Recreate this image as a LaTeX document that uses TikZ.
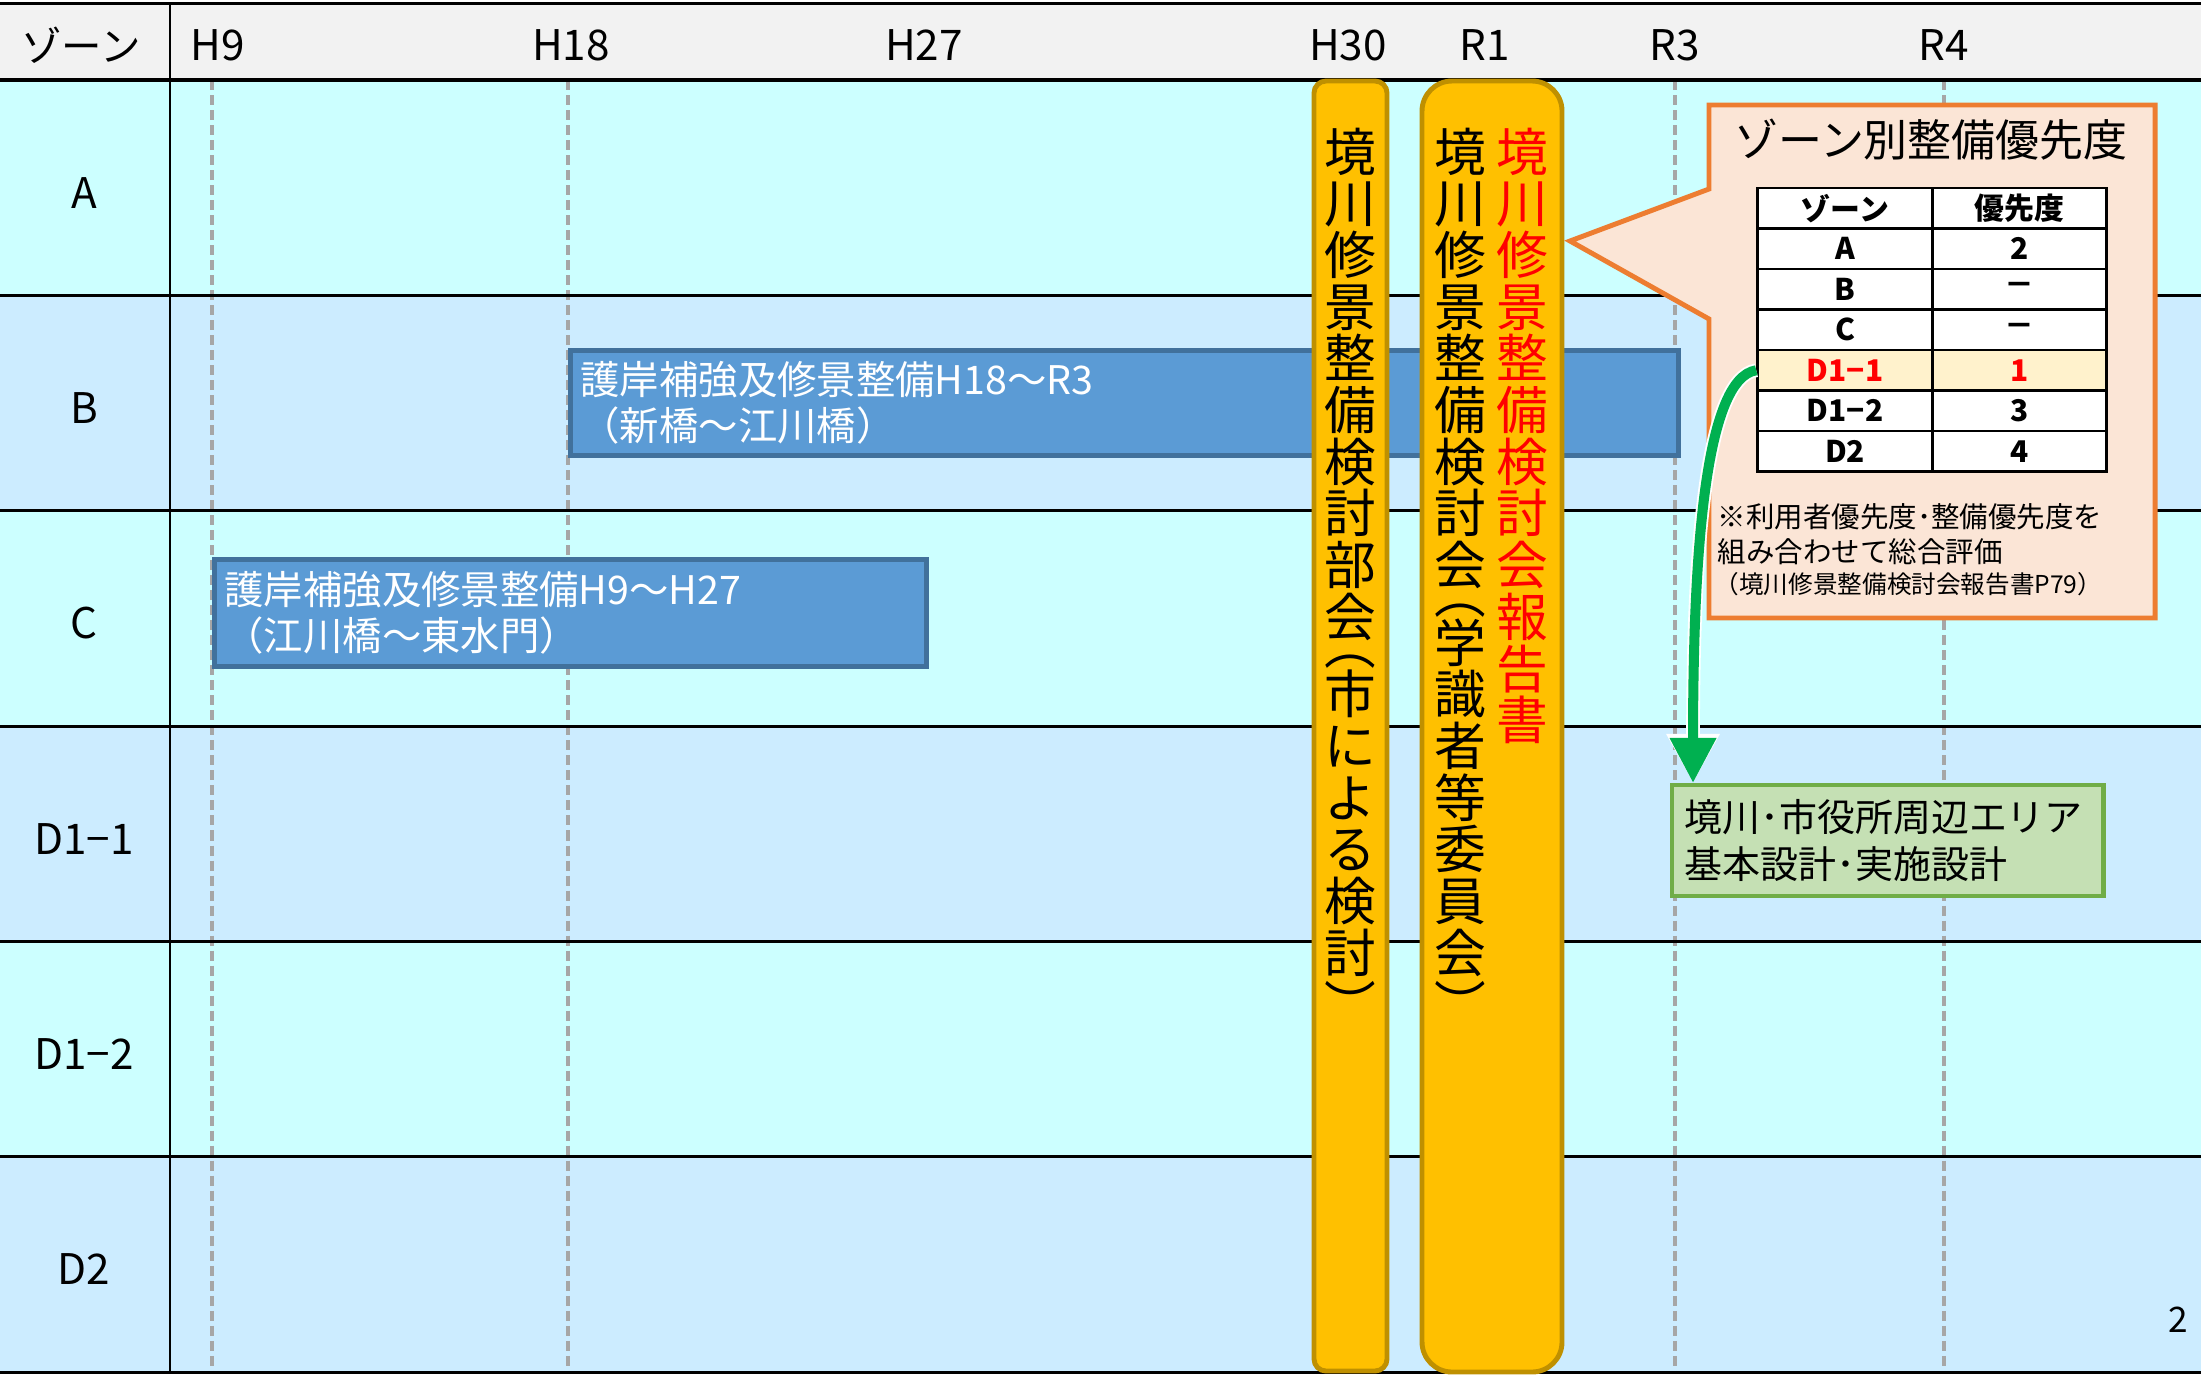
\documentclass[tikz,border=0pt]{standalone}
\usepackage{fontspec}
\setmainfont{Noto Sans CJK JP}
\usetikzlibrary{positioning, arrows.meta}
\definecolor{filacian}{HTML}{CCFFFF}
\definecolor{filaazul}{HTML}{CCECFF}
\definecolor{cabecera}{HTML}{F2F2F2}
\definecolor{guia}{HTML}{A6A6A6}
\definecolor{obraazul}{HTML}{5B9BD5}
\definecolor{obraborde}{HTML}{41719C}
\definecolor{comite}{HTML}{FFC000}
\definecolor{comiteborde}{HTML}{BF9000}
\definecolor{globo}{HTML}{FBE5D6}
\definecolor{globoborde}{HTML}{ED7D31}
\definecolor{resalte}{HTML}{FFF2CC}
\definecolor{diseno}{HTML}{C5E0B4}
\definecolor{disenoborde}{HTML}{70AD47}
\definecolor{flecha}{HTML}{00B050}
\tikzset{
	linea/.style={line width=0.85pt}, % Lineas de la tabla
	guiaanio/.style={draw=guia, line width=0.9pt, dash pattern=on 0.1cm off 0.05cm}, % Lineas de cada anio
	anio/.style={font=\fontsize{12}{12}\selectfont}, % Etiquetas de los anios
	zona/.style={font=\fontsize{12}{12}\selectfont}, % Etiquetas de las zonas
	obra/.style={draw=obraborde, fill=obraazul, line width=1.4pt, text=white, align=left,
		anchor=north west, inner xsep=0.1cm, inner ysep=0pt, font=\fontsize{11.2}{13.1}\selectfont}, % Barras de obras
	barra/.style={draw=comiteborde, fill=comite, line width=1.4pt}, % Barras de los comites
	vertical/.style={align=center, inner sep=0pt, anchor=north, font=\fontsize{14.7}{14.7}\selectfont}, % Texto vertical
	celda/.style={draw, fill=white, line width=0.85pt, minimum width=1.745cm, minimum height=0.405cm,
		inner sep=0pt, font=\fontsize{8.5}{8.5}\bfseries}, % Celdas de la tabla
	celdaroja/.style={celda, fill=resalte, text=red}, % Fila resaltada
	nota/.style={anchor=west, inner sep=0pt, font=\fontsize{8.1}{8.1}\selectfont}, % Notas del globo
	diseno/.style={draw=disenoborde, fill=diseno, line width=1.2pt, align=left, anchor=north west,
		inner xsep=0.12cm, inner ysep=0pt, font=\fontsize{10.8}{13.4}\selectfont} % Caja verde
}
\begin{document}
\begin{tikzpicture}[x=0.01cm, y=-0.01cm]
	\useasboundingbox (0,0) rectangle (2201,1375);
	% filas de zonas
	\fill[cabecera] (0,3) rectangle (2201,80);
	\foreach \etiqueta/\fondo [count=\i from 0] in {A/filacian, B/filaazul, C/filacian, D1−1/filaazul, D1−2/filacian, D2/filaazul} {
		\fill[\fondo] (0,{80+215.33*\i}) rectangle (2201,{80+215.33*(\i+1)});
		\node[zona] (zona\i) at (84,{85+215.33*(\i+0.5)}) {\etiqueta};
	}
	\node[zona, font=\fontsize{11.5}{11.5}\selectfont] (cabzona) at (81,45) {ゾーン};
	% anios
	\foreach \anio/\xpos in {H9/218, H18/571, H27/924, H30/1348, R1/1485, R3/1675, R4/1944}
		\node[anio] (\anio) at (\xpos,45) {\anio};
	\foreach \xpos in {212, 568, 1675, 1944}
		\draw[guiaanio] (\xpos,80) -- (\xpos,1372);
	\foreach \i in {1,...,6}
		\draw[linea] (0,{80+215.33*\i}) -- (2201,{80+215.33*\i});
	\draw[linea] (0,3) -- (2201,3);
	\draw[line width=1.1pt] (0,80) -- (2201,80);
	\draw[linea] (170,3) -- (170,1372);
	% obras
	\node[obra, minimum width=11.07cm, minimum height=1.05cm, text width=10.87cm] (obraB) at (568,348)
		{護岸補強及修景整備H18～R3\\（新橋～江川橋）};
	\node[obra, minimum width=7.12cm, minimum height=1.07cm, text width=6.92cm] (obraC) at (212,557)
		{護岸補強及修景整備H9～H27\\（江川橋～東水門）};
	% comites
	\draw[barra, rounded corners=0.12cm] (1314,81) rectangle (1387,1371);
	\draw[barra, rounded corners=0.3cm] (1422,81) rectangle (1562,1372);
	\node[vertical] (bukai) at (1350,127)
		{境\\川\\修\\景\\整\\備\\検\\討\\部\\会\llap{\smash{\raisebox{-0.55em}{︵}}}\\[0.5em]市\\に\\よ\\る\\検\\討\\︶};
	\node[vertical] (iinkai) at (1460,127)
		{境\\川\\修\\景\\整\\備\\検\\討\\会\llap{\smash{\raisebox{-0.55em}{︵}}}\\[0.5em]学\\識\\者\\等\\委\\員\\会\\︶};
	\node[vertical, text=red] (hokoku) at (1522,127)
		{境\\川\\修\\景\\整\\備\\検\\討\\会\\報\\告\\書};
	% globo
	\draw[globoborde, fill=globo, line width=1.4pt] (1709,105) -- (2155,105) -- (2155,618) -- (1709,618)
		-- (1709,319) -- (1570,241) -- (1709,189) -- cycle;
	\node[font=\fontsize{12.5}{12.5}\selectfont] (titulo) at (1931,140) {ゾーン別整備優先度};
	\foreach \etiqueta/\prio/\estilo [count=\i] in {ゾーン/優先度/celda, A/2/celda, B/－/celda, C/－/celda,
			D1−1/1/celdaroja, D1−2/3/celda, D2/4/celda} {
		\node[\estilo] (ta\i) at (1845,{188+40.5*(\i-0.5)}) {\etiqueta};
		\node[\estilo] (tb\i) at (2019.5,{188+40.5*(\i-0.5)}) {\prio};
	}
	\node[nota] (nota1) at (1717,517) {※利用者優先度･整備優先度を};
	\node[nota] (nota2) at (1717,552) {組み合わせて総合評価};
	\node[nota, font=\fontsize{7}{7}\selectfont] (nota3) at (1714,584) {（境川修景整備検討会報告書P79）};
	% diseno
	\node[diseno, minimum width=4.31cm, minimum height=1.11cm, text width=4.07cm] (sekkei) at (1670,783)
		{境川･市役所周辺エリア\\基本設計･実施設計};
	\draw[flecha, line width=2.85pt, -{Triangle[width=0.44cm, length=0.45cm]},
		preaction={draw=white, line width=3.9pt, -{Triangle[width=0.5cm, length=0.49cm]}}]
		(ta5.west) .. controls +(-52,8) and +(0,-225) .. ([xshift=0.23cm]sekkei.north west);
	\node[font=\fontsize{10}{10}\selectfont] (pagina) at (2178,1320) {2};
\end{tikzpicture}
\end{document}
